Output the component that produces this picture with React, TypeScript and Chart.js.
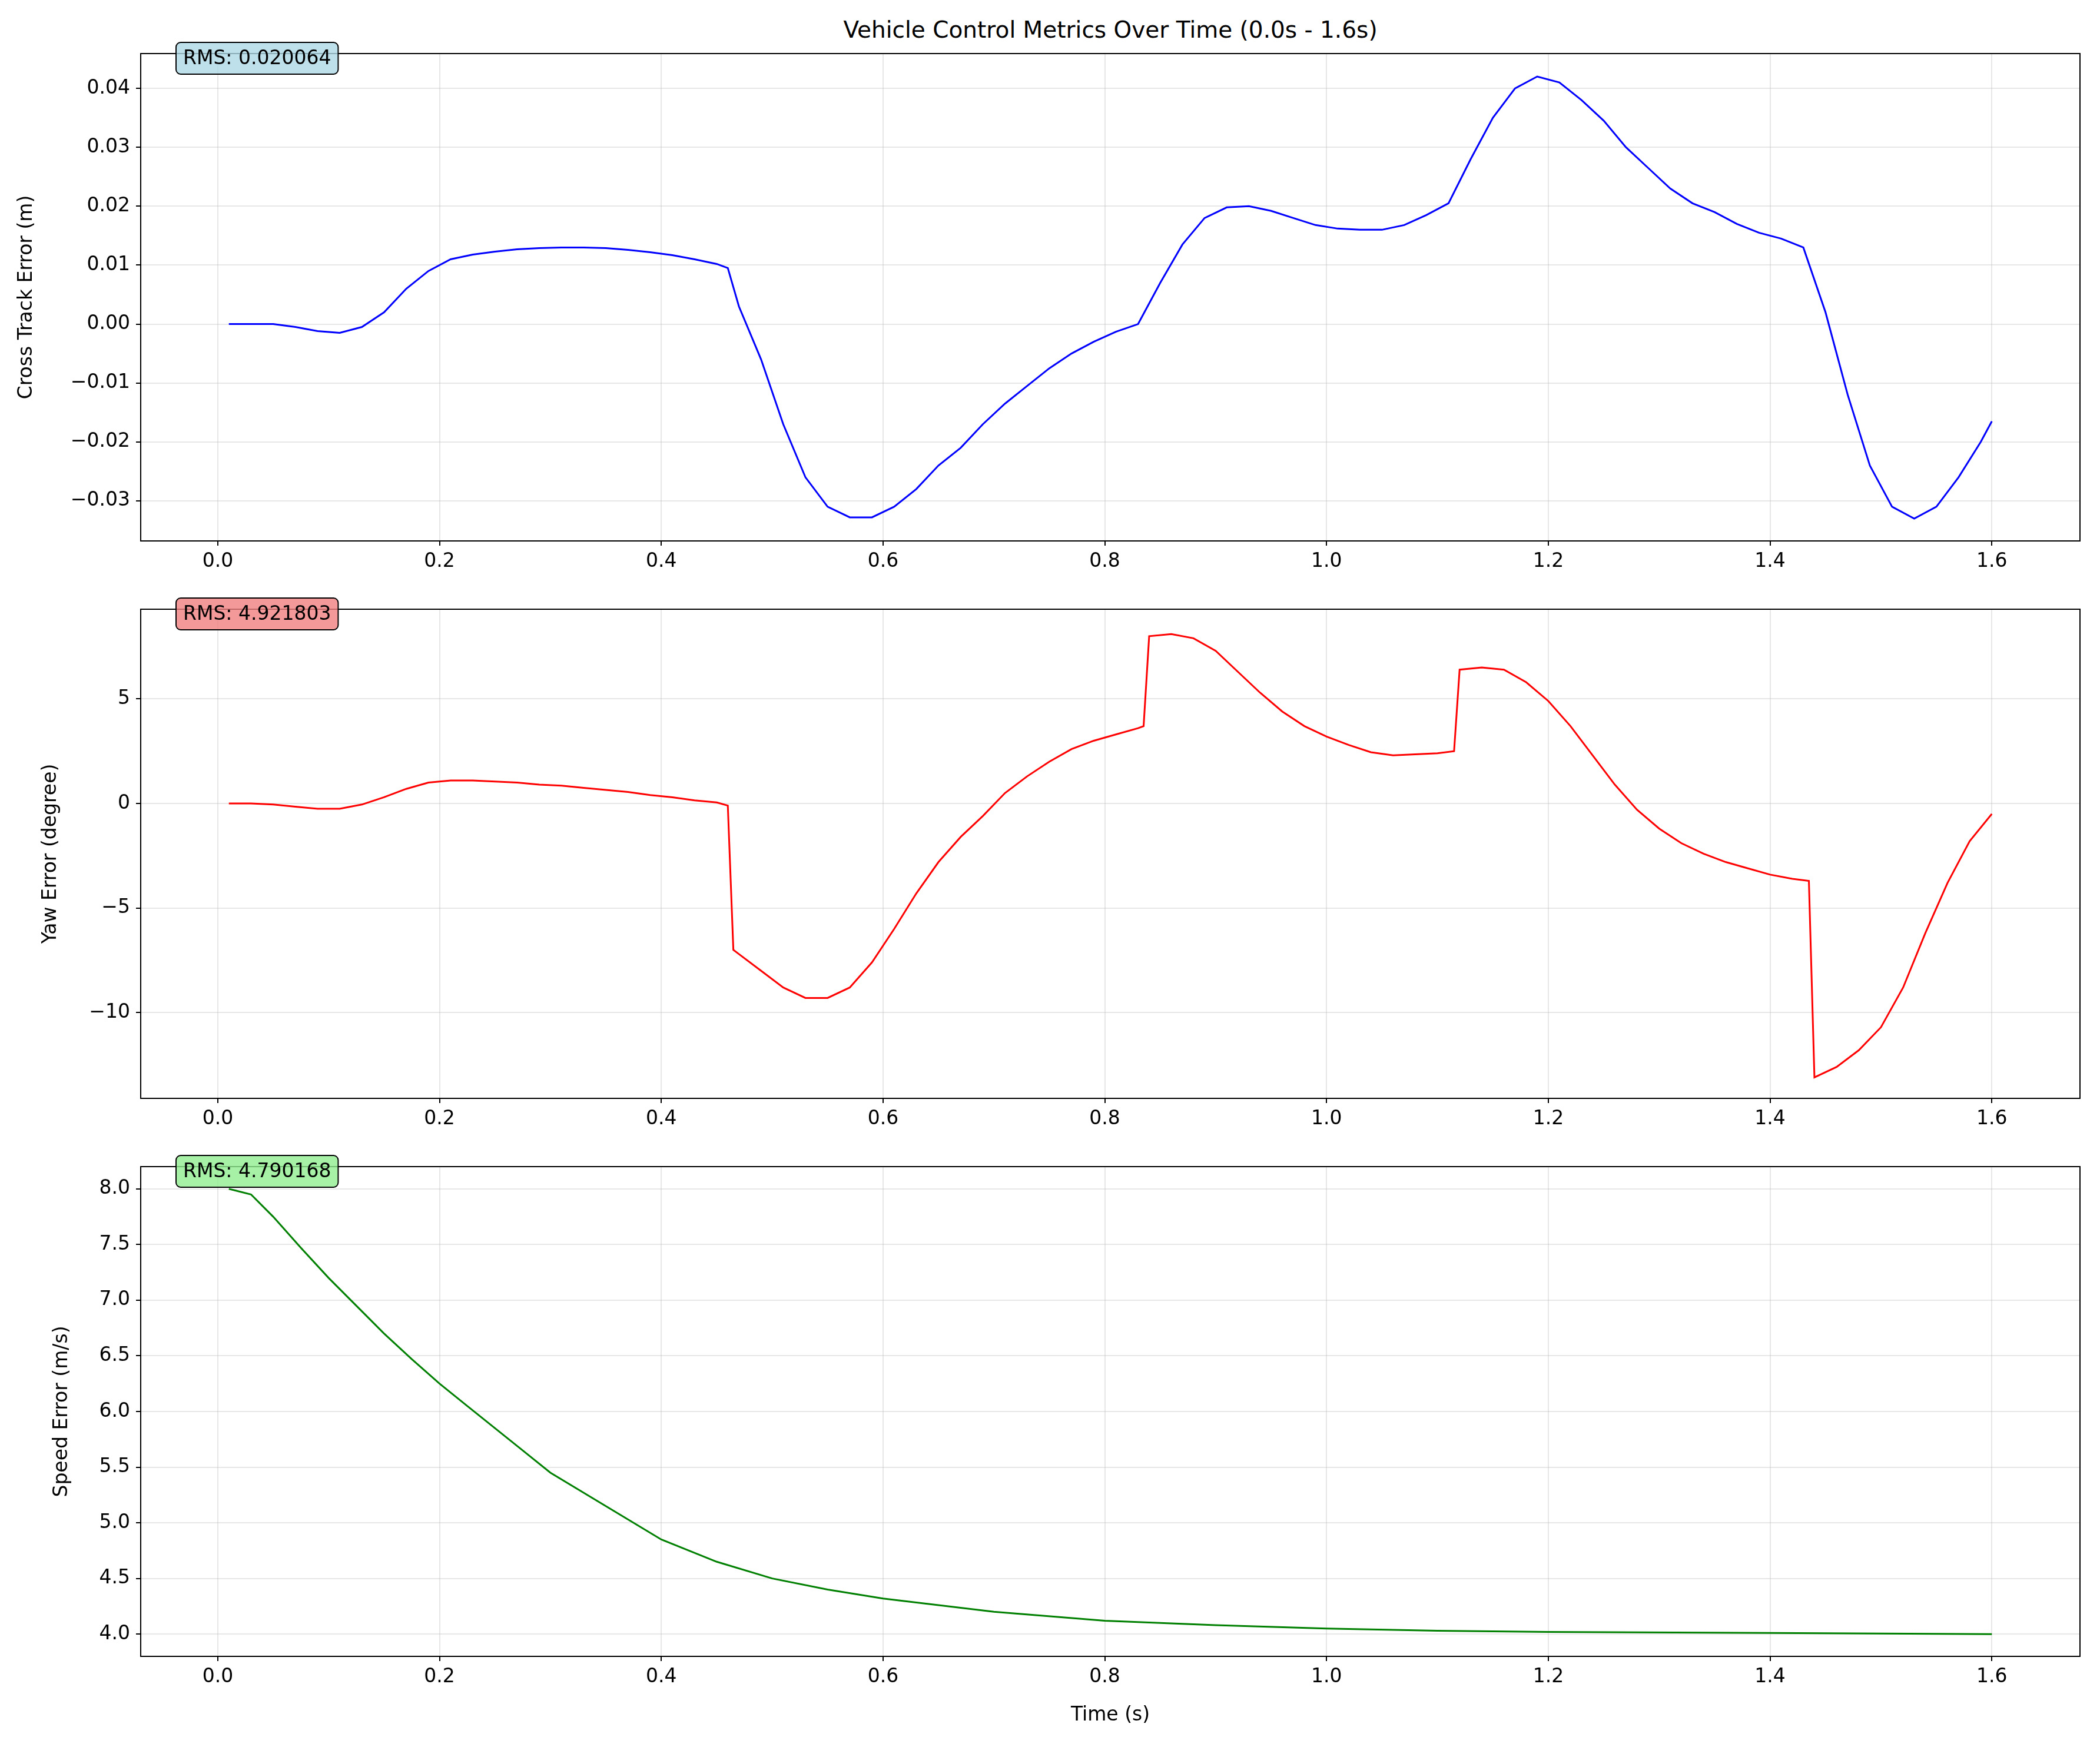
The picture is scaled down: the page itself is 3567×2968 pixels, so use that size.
import React, { useEffect, useRef } from "react";
import { Chart, registerables } from "chart.js";
Chart.register(...registerables);

const cteTime = [0.01,0.03,0.05,0.07,0.09,0.11,0.13,0.15,0.17,0.19,0.21,0.23,0.25,0.27,0.29,0.31,0.33,0.35,0.37,0.39,0.41,0.43,0.45,0.46,0.47,0.49,0.51,0.53,0.55,0.57,0.59,0.61,0.63,0.65,0.67,0.69,0.71,0.73,0.75,0.77,0.79,0.81,0.83,0.85,0.87,0.89,0.91,0.93,0.95,0.97,0.99,1.01,1.03,1.05,1.07,1.09,1.11,1.13,1.15,1.17,1.19,1.21,1.23,1.25,1.27,1.29,1.31,1.33,1.35,1.37,1.39,1.41,1.43,1.45,1.47,1.49,1.51,1.53,1.55,1.57,1.59,1.60];
const cteValues = [0,0,0,-0.0005,-0.0012,-0.0015,-0.0005,0.002,0.006,0.009,0.011,0.0118,0.0123,0.0127,0.0129,0.013,0.013,0.0129,0.0126,0.0122,0.0117,0.011,0.0102,0.0095,0.003,-0.006,-0.017,-0.026,-0.031,-0.0328,-0.0328,-0.031,-0.028,-0.024,-0.021,-0.017,-0.0135,-0.0105,-0.0075,-0.005,-0.003,-0.0013,0,0.007,0.0135,0.018,0.0198,0.02,0.0192,0.018,0.0168,0.0162,0.016,0.016,0.0168,0.0185,0.0205,0.028,0.035,0.04,0.042,0.041,0.038,0.0345,0.03,0.0265,0.023,0.0205,0.019,0.017,0.0155,0.0145,0.013,0.002,-0.012,-0.024,-0.031,-0.033,-0.031,-0.026,-0.02,-0.0165];

const yawTime = [0.01,0.03,0.05,0.07,0.09,0.11,0.13,0.15,0.17,0.19,0.21,0.23,0.25,0.27,0.29,0.31,0.33,0.35,0.37,0.39,0.41,0.43,0.45,0.46,0.465,0.47,0.49,0.51,0.53,0.55,0.57,0.59,0.61,0.63,0.65,0.67,0.69,0.71,0.73,0.75,0.77,0.79,0.81,0.83,0.835,0.84,0.86,0.88,0.90,0.92,0.94,0.96,0.98,1.00,1.02,1.04,1.06,1.08,1.10,1.115,1.12,1.14,1.16,1.18,1.20,1.22,1.24,1.26,1.28,1.30,1.32,1.34,1.36,1.38,1.40,1.42,1.435,1.44,1.46,1.48,1.50,1.52,1.54,1.56,1.58,1.60];
const yawValues = [0,0,-0.05,-0.15,-0.25,-0.25,-0.05,0.3,0.7,1.0,1.1,1.1,1.05,1.0,0.9,0.85,0.75,0.65,0.55,0.4,0.3,0.15,0.05,-0.1,-7.0,-7.2,-8.0,-8.8,-9.3,-9.3,-8.8,-7.6,-6.0,-4.3,-2.8,-1.6,-0.6,0.5,1.3,2.0,2.6,3.0,3.3,3.6,3.7,8.0,8.1,7.9,7.3,6.3,5.3,4.4,3.7,3.2,2.8,2.45,2.3,2.35,2.4,2.5,6.4,6.5,6.4,5.8,4.9,3.7,2.3,0.9,-0.3,-1.2,-1.9,-2.4,-2.8,-3.1,-3.4,-3.6,-3.7,-13.1,-12.6,-11.8,-10.7,-8.8,-6.2,-3.8,-1.8,-0.5];

const speedTime = [0.01,0.03,0.05,0.075,0.1,0.125,0.15,0.175,0.2,0.225,0.25,0.275,0.3,0.35,0.4,0.45,0.5,0.55,0.6,0.65,0.7,0.8,0.9,1.0,1.1,1.2,1.4,1.6];
const speedValues = [8.0,7.95,7.75,7.47,7.2,6.95,6.7,6.47,6.25,6.05,5.85,5.65,5.45,5.15,4.85,4.65,4.5,4.4,4.32,4.26,4.2,4.12,4.08,4.05,4.03,4.02,4.01,4.0];

const xTicks = [0, 0.2, 0.4, 0.6, 0.8, 1.0, 1.2, 1.4, 1.6];
const cteTicks = [-0.03, -0.02, -0.01, 0, 0.01, 0.02, 0.03, 0.04];
const yawTicks = [-10, -5, 0, 5];
const speedTicks = [4.0, 4.5, 5.0, 5.5, 6.0, 6.5, 7.0, 7.5, 8.0];

const W = 3567, H = 2968;
const FONT = "DejaVu Sans";
const FS = 33;

const panels = [
  { time: cteTime, vals: cteValues, color: "#0000ff", min: -0.0368, max: 0.0459, ticks: cteTicks, dec: 2, label: "Cross Track Error (m)", rms: "RMS: 0.020064", box: "rgba(173,216,230,0.8)", top: 91, bottom: 919, titleX: 45, xTitle: false },
  { time: yawTime, vals: yawValues, color: "#ff0000", min: -14.1, max: 9.29, ticks: yawTicks, dec: 0, label: "Yaw Error (degree)", rms: "RMS: 4.921803", box: "rgba(240,128,128,0.8)", top: 1035, bottom: 1866, titleX: 86, xTitle: false },
  { time: speedTime, vals: speedValues, color: "#008000", min: 3.8, max: 8.2, ticks: speedTicks, dec: 1, label: "Speed Error (m/s)", rms: "RMS: 4.790168", box: "rgba(144,238,144,0.8)", top: 1982, bottom: 2814, titleX: 105, xTitle: true },
];

const fmt = (v: number, d: number) => (d === 0 ? String(Math.round(v)) : v.toFixed(d)).replace("-", "\u2212");

function Panel({ p }: { p: any }) {
  const ref = useRef<HTMLCanvasElement>(null);
  const padTop = 30;
  const xH = p.xTitle ? H - p.bottom : 100;
  const ch = p.bottom - p.top + padTop + xH;
  useEffect(() => {
    const deco = {
      id: "deco",
      afterDraw(c: any) {
        const ctx = c.ctx, a = c.chartArea;
        ctx.save();
        ctx.strokeStyle = "#000"; ctx.lineWidth = 2;
        ctx.strokeRect(a.left, a.top, a.right - a.left, a.bottom - a.top);
        ctx.font = `${FS}px "${FONT}"`;
        const tw = ctx.measureText(p.rms).width;
        const bx = a.left + 60, by = a.top - 19, bw = tw + 24, bh = 54;
        ctx.beginPath();
        ctx.roundRect(bx, by, bw, bh, 8);
        ctx.fillStyle = p.box; ctx.fill();
        ctx.strokeStyle = "#000"; ctx.lineWidth = 2; ctx.stroke();
        ctx.fillStyle = "#000"; ctx.textBaseline = "middle"; ctx.textAlign = "left";
        ctx.fillText(p.rms, bx + 12, by + bh / 2 + 1);
        ctx.translate(p.titleX, (a.top + a.bottom) / 2);
        ctx.rotate(-Math.PI / 2);
        ctx.textAlign = "center";
        ctx.fillText(p.label, 0, 0);
        ctx.restore();
        if (p.xTitle) {
          ctx.save();
          ctx.font = `${FS}px "${FONT}"`; ctx.fillStyle = "#000";
          ctx.textAlign = "center"; ctx.textBaseline = "middle";
          ctx.fillText("Time (s)", (a.left + a.right) / 2, a.bottom + 100);
          ctx.restore();
        }
      },
    };
    const chart = new Chart(ref.current!, {
      type: "line",
      data: { datasets: [{ data: p.time.map((t: number, i: number) => ({ x: t, y: p.vals[i] })), borderColor: p.color, borderWidth: 3, pointRadius: 0, fill: false, tension: 0 }] },
      options: {
        animation: false, responsive: false, devicePixelRatio: 1,
        layout: { padding: { top: padTop, left: 0, right: 34, bottom: 0 } },
        plugins: { legend: { display: false }, tooltip: { enabled: false } },
        scales: {
          x: {
            type: "linear", min: -0.0695, max: 1.6795,
            afterBuildTicks: (s: any) => { s.ticks = xTicks.map((v) => ({ value: v })); },
            afterFit: (s: any) => { s.height = xH; },
            ticks: { color: "#000", font: { family: FONT, size: FS }, padding: 8, maxRotation: 0, autoSkip: false, callback: (v: any) => fmt(Number(v), 1) },
            grid: { color: "rgba(176,176,176,0.3)", lineWidth: 2, tickColor: "#000", tickLength: 8 },
            border: { display: false },
          },
          y: {
            min: p.min, max: p.max,
            afterBuildTicks: (s: any) => { s.ticks = p.ticks.map((v: number) => ({ value: v })); },
            afterFit: (s: any) => { s.width = 239; },
            ticks: { color: "#000", font: { family: FONT, size: FS }, padding: 10, autoSkip: false, callback: (v: any) => fmt(Number(v), p.dec) },
            grid: { color: "rgba(176,176,176,0.3)", lineWidth: 2, tickColor: "#000", tickLength: 8 },
            border: { display: false },
          },
        },
      } as any,
      plugins: [deco],
    });
    return () => chart.destroy();
  }, []);
  return <canvas ref={ref} width={W} height={ch} style={{ position: "absolute", left: 0, top: p.top - padTop, width: W, height: ch }} />;
}

export default function App() {
  useEffect(() => { document.body.style.margin = "0"; }, []);
  return (
    <div style={{ position: "relative", width: W, height: H, background: "#fff", overflow: "hidden" }}>
      <div style={{ position: "absolute", top: 28, left: 239, width: 3533 - 239, textAlign: "center", fontFamily: FONT, fontSize: 39, color: "#000" }}>
        Vehicle Control Metrics Over Time (0.0s - 1.6s)
      </div>
      {panels.map((p, i) => <Panel key={i} p={p} />)}
    </div>
  );
}
